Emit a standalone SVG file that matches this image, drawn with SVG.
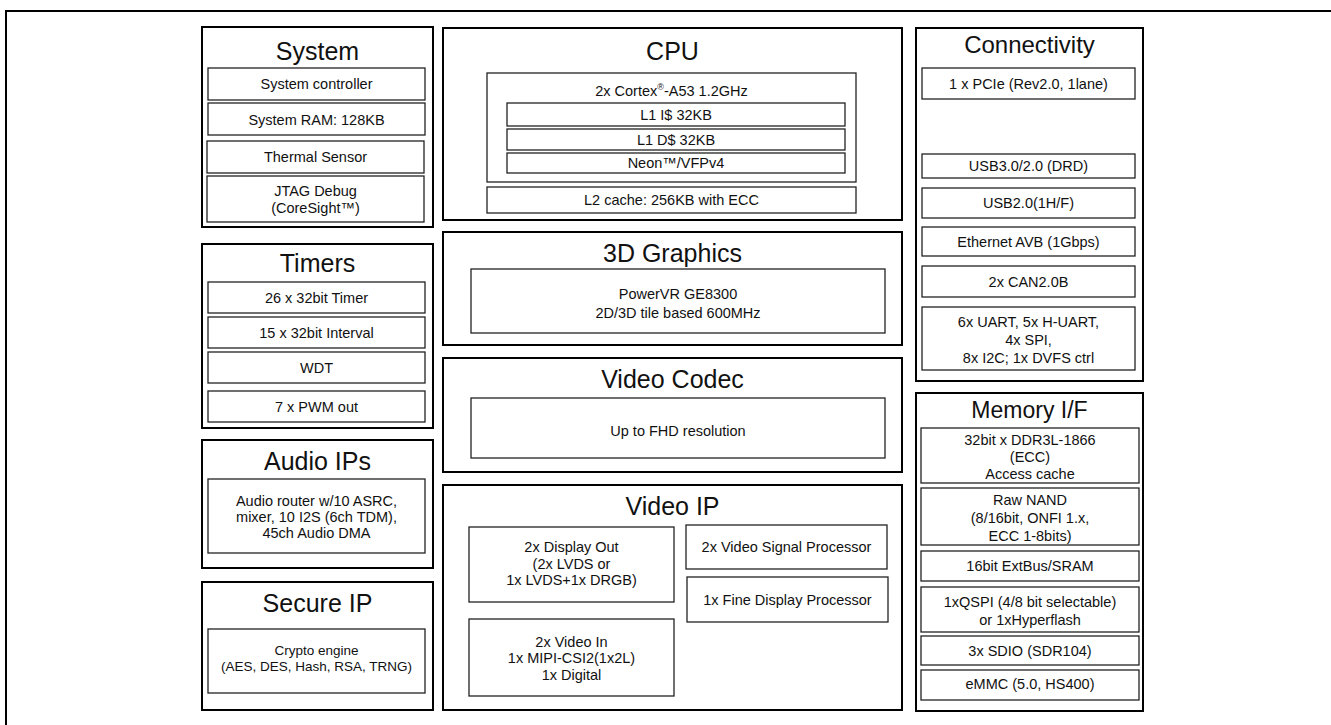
<svg xmlns="http://www.w3.org/2000/svg" width="1331" height="725" viewBox="0 0 1331 725">
<style>
.o{fill:#fff;stroke:#000;stroke-width:2}
.i{fill:#fff;stroke:#222;stroke-width:1.3}
text{font-family:"Liberation Sans",Arial,sans-serif;fill:#111;text-anchor:middle}
.t{font-size:25px}
.s{font-size:14.5px}
.c{font-size:13.5px}
</style>
<rect width="1331" height="725" fill="#fff"/>
<path d="M6 725V11H1331" fill="none" stroke="#000" stroke-width="2"/>

<g id="system">
<rect class="o" x="202" y="27" width="231" height="200"/>
<text class="t" x="317.5" y="60">System</text>
<rect class="i" x="208" y="68" width="217" height="32"/>
<text class="s" x="316.5" y="89">System controller</text>
<rect class="i" x="208" y="103" width="217" height="32"/>
<text class="s" x="316.5" y="124.5">System RAM: 128KB</text>
<rect class="i" x="207" y="141" width="217" height="32"/>
<text class="s" x="315.5" y="162">Thermal Sensor</text>
<rect class="i" x="207" y="176" width="217" height="46"/>
<text class="s" x="315.5" y="196">JTAG Debug</text>
<text class="s" x="315.5" y="213">(CoreSight™)</text>
</g>

<g id="timers">
<rect class="o" x="202" y="244" width="231" height="184"/>
<text class="t" x="317.5" y="272">Timers</text>
<rect class="i" x="208" y="282" width="217" height="31"/>
<text class="s" x="316.5" y="302.5">26 x 32bit Timer</text>
<rect class="i" x="208" y="317" width="217" height="31"/>
<text class="s" x="316.5" y="337.5">15 x 32bit Interval</text>
<rect class="i" x="208" y="352" width="217" height="31"/>
<text class="s" x="316.5" y="372.5">WDT</text>
<rect class="i" x="208" y="391" width="217" height="31"/>
<text class="s" x="316.5" y="411.5">7 x PWM out</text>
</g>

<g id="audio">
<rect class="o" x="202" y="440" width="231" height="128"/>
<text class="t" x="317.5" y="470">Audio IPs</text>
<rect class="i" x="208" y="479" width="217" height="74"/>
<text class="s" x="316.5" y="506">Audio router w/10 ASRC,</text>
<text class="s" x="316.5" y="522">mixer, 10 I2S (6ch TDM),</text>
<text class="s" x="316.5" y="538">45ch Audio DMA</text>
</g>

<g id="secure">
<rect class="o" x="202" y="582" width="231" height="128"/>
<text class="t" x="317.5" y="612">Secure IP</text>
<rect class="i" x="208" y="629" width="217" height="64"/>
<text class="c" x="316.5" y="655">Crypto engine</text>
<text class="c" x="316.5" y="671">(AES, DES, Hash, RSA, TRNG)</text>
</g>

<g id="cpu">
<rect class="o" x="443" y="28" width="459" height="192"/>
<text class="t" x="672.5" y="60">CPU</text>
<rect class="i" x="487" y="73" width="369" height="109"/>
<text class="s" x="671.5" y="96">2x Cortex<tspan font-size="9" dy="-6">®</tspan><tspan dy="6">-A53 1.2GHz</tspan></text>
<rect class="i" x="507" y="103" width="338" height="23"/>
<text class="s" x="676" y="119.5">L1 I$ 32KB</text>
<rect class="i" x="507" y="129" width="338" height="21"/>
<text class="s" x="676" y="144.5">L1 D$ 32KB</text>
<rect class="i" x="507" y="153" width="338" height="20"/>
<text class="s" x="676" y="168">Neon™/VFPv4</text>
<rect class="i" x="487" y="187" width="369" height="26"/>
<text class="s" x="671.5" y="205">L2 cache: 256KB with ECC</text>
</g>

<g id="graphics">
<rect class="o" x="443" y="232" width="459" height="113"/>
<text class="t" x="672.5" y="262">3D Graphics</text>
<rect class="i" x="471" y="269" width="414" height="64"/>
<text class="s" x="678" y="299">PowerVR GE8300</text>
<text class="s" x="678" y="318">2D/3D tile based 600MHz</text>
</g>

<g id="codec">
<rect class="o" x="443" y="358" width="459" height="114"/>
<text class="t" x="672.5" y="388">Video Codec</text>
<rect class="i" x="471" y="398" width="414" height="60"/>
<text class="s" x="678" y="436">Up to FHD resolution</text>
</g>

<g id="videoip">
<rect class="o" x="443" y="485" width="459" height="225"/>
<text class="t" x="672.5" y="515">Video IP</text>
<rect class="i" x="469" y="527" width="205" height="75"/>
<text class="s" x="571.5" y="552">2x Display Out</text>
<text class="s" x="571.5" y="569">(2x LVDS or</text>
<text class="s" x="571.5" y="585">1x LVDS+1x DRGB)</text>
<rect class="i" x="469" y="619" width="205" height="77"/>
<text class="s" x="571.5" y="647">2x Video In</text>
<text class="s" x="571.5" y="663">1x MIPI-CSI2(1x2L)</text>
<text class="s" x="571.5" y="680">1x Digital</text>
<rect class="i" x="686" y="525" width="201" height="44"/>
<text class="s" x="786.5" y="552">2x Video Signal Processor</text>
<rect class="i" x="687" y="577" width="201" height="45"/>
<text class="s" x="787.5" y="605">1x Fine Display Processor</text>
</g>

<g id="connectivity">
<rect class="o" x="916" y="28" width="227" height="353"/>
<text class="t" x="1029.5" y="53" style="font-size:24px">Connectivity</text>
<rect class="i" x="922" y="68" width="213" height="31"/>
<text class="s" x="1028.5" y="88.5">1 x PCIe (Rev2.0, 1lane)</text>
<rect class="i" x="922" y="154" width="213" height="24"/>
<text class="s" x="1028.5" y="171">USB3.0/2.0 (DRD)</text>
<rect class="i" x="922" y="188" width="213" height="30"/>
<text class="s" x="1028.5" y="208">USB2.0(1H/F)</text>
<rect class="i" x="922" y="227" width="213" height="29"/>
<text class="s" x="1028.5" y="246.5">Ethernet AVB (1Gbps)</text>
<rect class="i" x="922" y="266" width="213" height="31"/>
<text class="s" x="1028.5" y="286.5">2x CAN2.0B</text>
<rect class="i" x="922" y="307" width="213" height="63"/>
<text class="s" x="1028.5" y="327">6x UART, 5x H-UART,</text>
<text class="s" x="1028.5" y="345">4x SPI,</text>
<text class="s" x="1028.5" y="363">8x I2C; 1x DVFS ctrl</text>
</g>

<g id="memory">
<rect class="o" x="916" y="393" width="227" height="318"/>
<text class="t" x="1029.5" y="418" style="font-size:23px">Memory I/F</text>
<rect class="i" x="921" y="428" width="218" height="55"/>
<text class="s" x="1030" y="445">32bit x DDR3L-1866</text>
<text class="s" x="1030" y="462">(ECC)</text>
<text class="s" x="1030" y="479">Access cache</text>
<rect class="i" x="921" y="488" width="218" height="57"/>
<text class="s" x="1030" y="505">Raw NAND</text>
<text class="s" x="1030" y="523">(8/16bit, ONFI 1.x,</text>
<text class="s" x="1030" y="541">ECC 1-8bits)</text>
<rect class="i" x="921" y="551" width="218" height="30"/>
<text class="s" x="1030" y="571">16bit ExtBus/SRAM</text>
<rect class="i" x="921" y="587" width="218" height="45"/>
<text class="s" x="1030" y="607">1xQSPI (4/8 bit selectable)</text>
<text class="s" x="1030" y="625">or 1xHyperflash</text>
<rect class="i" x="921" y="636" width="218" height="29"/>
<text class="s" x="1030" y="656">3x SDIO (SDR104)</text>
<rect class="i" x="921" y="670" width="218" height="30"/>
<text class="s" x="1030" y="689">eMMC (5.0, HS400)</text>
</g>

<g id="connectors"></g>
</svg>
